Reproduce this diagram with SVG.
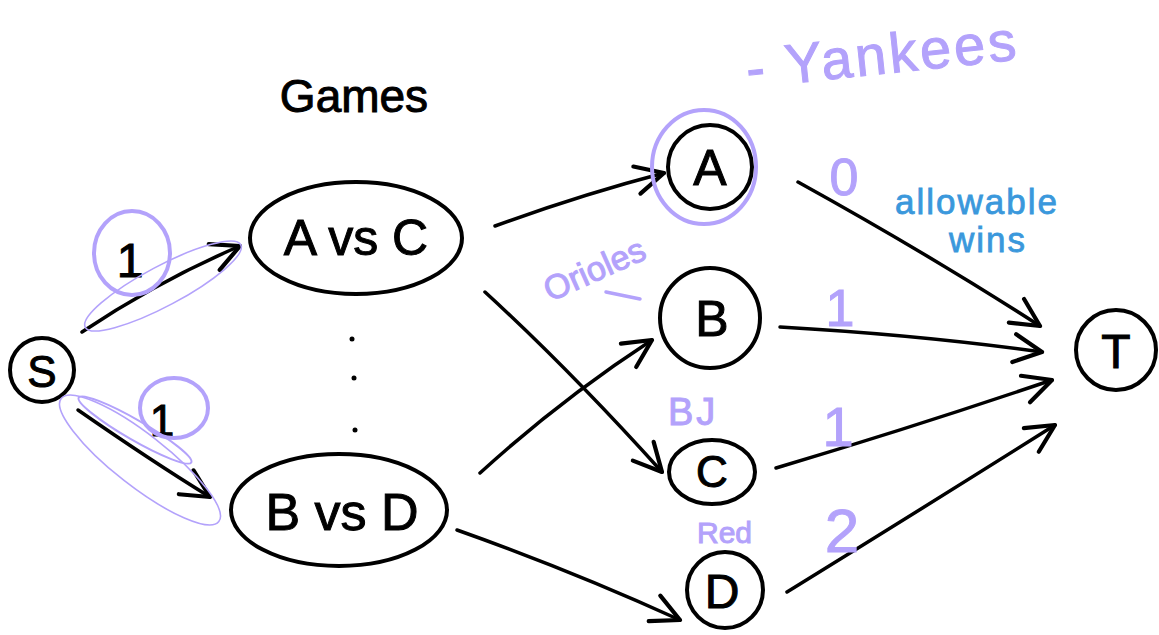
<svg xmlns="http://www.w3.org/2000/svg" width="1159" height="635" viewBox="0 0 1159 635">
  <style>
    .node { fill: none; stroke: #000; stroke-width: 4; }
    .edge { fill: none; stroke: #000; stroke-width: 3.5; stroke-linecap: round; }
    .lbl { font-family: "Liberation Sans", sans-serif; fill: #000; stroke: #000; stroke-width: 1; text-anchor: middle; }
    .note { font-family: "Liberation Sans", sans-serif; fill: #b3a2fb; stroke: #b3a2fb; stroke-width: 1; }
    .mark { fill: none; stroke: #b3a2fb; stroke-linecap: round; }
    .blue { font-family: "Liberation Sans", sans-serif; fill: #3a98dc; stroke: #3a98dc; stroke-width: 0.8; text-anchor: middle; letter-spacing: 2px; }
  </style>
  <defs>
    <marker id="arr" viewBox="0 0 20 20" refX="18" refY="10" markerWidth="10" markerHeight="10" markerUnits="strokeWidth" orient="auto">
      <path d="M2 2 L18 10 L2 18" fill="none" stroke="#000" stroke-width="2.4" stroke-linecap="round" stroke-linejoin="round"/>
    </marker>
  </defs>
  <rect width="1159" height="635" fill="#fff"/>

  <text class="lbl" x="354" y="112" font-size="46">Games</text>

  <g id="connectors">
    <path class="edge" d="M82 332 Q160 280 240 246" marker-end="url(#arr)"/>
    <path class="edge" d="M78 410 Q150 460 210 497" marker-end="url(#arr)"/>
    <path class="edge" d="M495 226 Q580 195 664 173" marker-end="url(#arr)"/>
    <path class="edge" d="M485 292 Q570 370 662 472" marker-end="url(#arr)"/>
    <path class="edge" d="M480 473 Q560 400 652 340" marker-end="url(#arr)"/>
    <path class="edge" d="M457 530 Q570 570 680 620" marker-end="url(#arr)"/>
    <path class="edge" d="M798 182 Q930 255 1040 326" marker-end="url(#arr)"/>
    <path class="edge" d="M780 327 Q920 335 1042 352" marker-end="url(#arr)"/>
    <path class="edge" d="M776 468 Q920 425 1052 380" marker-end="url(#arr)"/>
    <path class="edge" d="M787 592 Q920 510 1055 425" marker-end="url(#arr)"/>
  </g>

  <g id="node-s">
    <circle class="node" cx="42" cy="370" r="32"/>
    <text class="lbl" x="42" y="387" font-size="44">S</text>
  </g>
  <g id="node-avc">
    <ellipse class="node" cx="356" cy="238" rx="106" ry="56"/>
    <text class="lbl" x="356" y="255" font-size="50">A vs C</text>
  </g>
  <g id="node-dots">
    <circle cx="352" cy="339" r="2.5" fill="#000"/>
    <circle cx="354" cy="378" r="2.5" fill="#000"/>
    <circle cx="355" cy="430" r="2.5" fill="#000"/>
  </g>
  <g id="node-bvd">
    <ellipse class="node" cx="339" cy="510" rx="108" ry="56"/>
    <text class="lbl" x="342" y="530" font-size="52">B vs D</text>
  </g>
  <g id="node-a">
    <circle class="node" cx="710" cy="167" r="42"/>
    <ellipse class="mark" cx="704" cy="167" rx="52" ry="57" stroke-width="4"/>
    <text class="lbl" x="710" y="185" font-size="50">A</text>
  </g>
  <g id="node-b">
    <circle class="node" cx="710" cy="318" r="50"/>
    <text class="lbl" x="712" y="336" font-size="50">B</text>
  </g>
  <g id="node-c">
    <ellipse class="node" cx="712" cy="472" rx="43" ry="32"/>
    <text class="lbl" x="712" y="487" font-size="44">C</text>
  </g>
  <g id="node-d">
    <circle class="node" cx="725" cy="590" r="38"/>
    <text class="lbl" x="722" y="608" font-size="48">D</text>
  </g>
  <g id="node-t">
    <circle class="node" cx="1116" cy="350" r="40"/>
    <text class="lbl" x="1116" y="368" font-size="48">T</text>
  </g>

  <!-- capacities on the source edges -->
  <g id="cap-source">
    <text class="lbl" x="130" y="277" font-size="48" stroke-width="2.5">1</text>
    <ellipse class="mark" cx="132" cy="253" rx="38" ry="42" stroke-width="4"/>
    <ellipse class="mark" cx="163" cy="286" rx="88" ry="20" transform="rotate(-28 163 286)" stroke-width="1.6"/>
    <text class="lbl" x="162" y="436" font-size="44" stroke-width="2.5">1</text>
    <ellipse class="mark" cx="174" cy="408" rx="34" ry="30" stroke-width="4"/>
    <ellipse class="mark" cx="140" cy="460" rx="100" ry="26" transform="rotate(38 140 460)" stroke-width="1.6"/>
    <ellipse class="mark" cx="135" cy="430" rx="65" ry="10" transform="rotate(30 135 430)" stroke-width="2"/>
  </g>

  <!-- capacities on the sink edges -->
  <g id="cap-sink">
    <text class="note" x="844" y="195" font-size="52" text-anchor="middle" stroke-width="2">0</text>
    <text class="note" x="840" y="326" font-size="52" text-anchor="middle" stroke-width="2">1</text>
    <text class="note" x="838" y="446" font-size="56" text-anchor="middle" stroke-width="2">1</text>
    <text class="note" x="842" y="552" font-size="62" text-anchor="middle" stroke-width="2">2</text>
    <text class="blue" x="977" y="214" font-size="35">allowable</text>
    <text class="blue" x="988" y="252" font-size="35">wins</text>
  </g>

  <!-- team names -->
  <g id="teams">
    <text class="note" x="748" y="88" font-size="56" letter-spacing="3" transform="rotate(-6 748 88)">- Yankees</text>
    <text class="note" x="550" y="302" font-size="34" transform="rotate(-24 550 302)">Orioles</text>
    <path class="mark" d="M606 292 L640 299" stroke-width="3.5"/>
    <text class="note" x="668" y="425" font-size="38" letter-spacing="3">BJ</text>
    <text class="note" x="697" y="543" font-size="30">Red</text>
  </g>
</svg>
